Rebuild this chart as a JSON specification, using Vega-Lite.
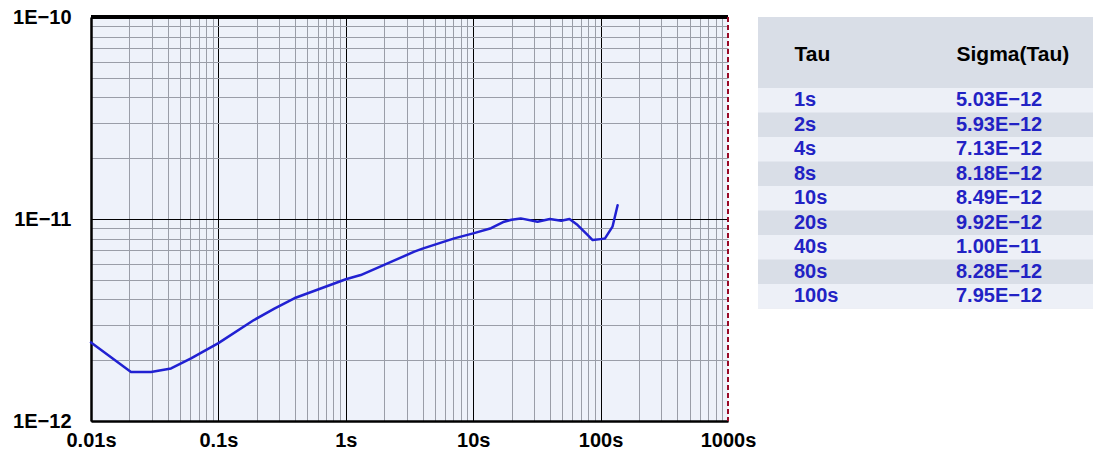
{
  "$schema": "https://vega.github.io/schema/vega-lite/v6.json",
  "padding": {"left": 12, "top": 7, "right": 5, "bottom": 0},
  "background": "white",
  "bounds": "flush",
  "spacing": 30,
  "datasets": {
    "curve": [
      {"tau": 0.01, "sigma": 2.45e-12},
      {"tau": 0.0206, "sigma": 1.75e-12},
      {"tau": 0.0296, "sigma": 1.75e-12},
      {"tau": 0.0425, "sigma": 1.82e-12},
      {"tau": 0.061, "sigma": 2.04e-12},
      {"tau": 0.1, "sigma": 2.43e-12},
      {"tau": 0.19, "sigma": 3.16e-12},
      {"tau": 0.275, "sigma": 3.6e-12},
      {"tau": 0.394, "sigma": 4.05e-12},
      {"tau": 1, "sigma": 5.03e-12},
      {"tau": 1.31, "sigma": 5.28e-12},
      {"tau": 2, "sigma": 5.93e-12},
      {"tau": 3.45, "sigma": 6.89e-12},
      {"tau": 4, "sigma": 7.13e-12},
      {"tau": 7.1, "sigma": 8.02e-12},
      {"tau": 8, "sigma": 8.18e-12},
      {"tau": 10, "sigma": 8.49e-12},
      {"tau": 13.8, "sigma": 9.0e-12},
      {"tau": 17.5, "sigma": 9.7e-12},
      {"tau": 20, "sigma": 9.92e-12},
      {"tau": 23.6, "sigma": 1.007e-11},
      {"tau": 32, "sigma": 9.7e-12},
      {"tau": 40, "sigma": 1.0e-11},
      {"tau": 49, "sigma": 9.8e-12},
      {"tau": 57, "sigma": 1.0e-11},
      {"tau": 66, "sigma": 9.33e-12},
      {"tau": 76.8, "sigma": 8.49e-12},
      {"tau": 80, "sigma": 8.28e-12},
      {"tau": 86.6, "sigma": 7.87e-12},
      {"tau": 100, "sigma": 7.95e-12},
      {"tau": 108, "sigma": 8.0e-12},
      {"tau": 124, "sigma": 9.16e-12},
      {"tau": 136, "sigma": 1.17e-11}
    ],
    "table": [
      {"Tau": "1s", "Sigma": "5.03E−12"},
      {"Tau": "2s", "Sigma": "5.93E−12"},
      {"Tau": "4s", "Sigma": "7.13E−12"},
      {"Tau": "8s", "Sigma": "8.18E−12"},
      {"Tau": "10s", "Sigma": "8.49E−12"},
      {"Tau": "20s", "Sigma": "9.92E−12"},
      {"Tau": "40s", "Sigma": "1.00E−11"},
      {"Tau": "80s", "Sigma": "8.28E−12"},
      {"Tau": "100s", "Sigma": "7.95E−12"}
    ]
  },
  "hconcat": [
    {
      "width": 637,
      "height": 404,
      "view": {"fill": "#eef2fa", "stroke": null},
      "data": {"name": "curve"},
      "layer": [
        {
          "mark": {"type": "line", "color": "#2121d2", "strokeWidth": 2.5, "strokeJoin": "round", "strokeCap": "round"},
          "encoding": {
            "x": {
              "field": "tau", "type": "quantitative",
              "scale": {"type": "log", "domain": [0.01, 1000], "nice": false},
              "axis": {
                "orient": "bottom", "title": null,
                "values": [0.01,0.02,0.03,0.04,0.05,0.06,0.07,0.08,0.09,0.1,0.2,0.3,0.4,0.5,0.6,0.7,0.8,0.9,1,2,3,4,5,6,7,8,9,10,20,30,40,50,60,70,80,90,100,200,300,400,500,600,700,800,900,1000],
                "labelExpr": "indexof([0.01,0.1,1,10,100,1000], datum.value) >= 0 ? datum.value + 's' : ''",
                "labelFont": "Liberation Sans", "labelFontSize": 20, "labelFontWeight": "bold", "labelColor": "black",
                "labelPadding": 9, "labelFlush": false, "labelBound": false, "labelOverlap": false,
                "ticks": false, "domain": true, "domainColor": "black", "domainWidth": 2.5,
                "grid": true, "gridWidth": 1,
                "gridColor": {"condition": {"test": "indexof([0.01,0.1,1,10,100,1000], datum.value) >= 0", "value": "#000000"}, "value": "#9a9ea8"},
                "gridOpacity": {"condition": {"test": "datum.value > 999", "value": 0}, "value": 1}
              }
            },
            "y": {
              "field": "sigma", "type": "quantitative",
              "scale": {"type": "log", "domain": [1e-12, 1e-10], "nice": false},
              "axis": {
                "orient": "left", "title": null,
                "values": [1e-12,2e-12,3e-12,4e-12,5e-12,6e-12,7e-12,8e-12,9e-12,1e-11,2e-11,3e-11,4e-11,5e-11,6e-11,7e-11,8e-11,9e-11,1e-10],
                "labelExpr": "indexof([1e-12,1e-11,1e-10], datum.value) >= 0 ? '1E\u2212' + round(-log(datum.value)/LN10) : ''",
                "labelFont": "Liberation Sans", "labelFontSize": 20, "labelFontWeight": "bold", "labelColor": "black",
                "labelPadding": 20, "labelBound": false, "labelOverlap": false, "labelFlush": false,
                "ticks": false, "domain": true, "domainColor": "black", "domainWidth": 2.5,
                "grid": true, "gridWidth": 1,
                "gridColor": {"condition": {"test": "indexof([1e-12,1e-11,1e-10], datum.value) >= 0", "value": "#000000"}, "value": "#9a9ea8"}
              }
            }
          }
        },
        {
          "mark": {"type": "rule", "color": "#000000", "strokeWidth": 2.5},
          "encoding": {"y": {"datum": 1e-10, "type": "quantitative"}}
        },
        {
          "mark": {"type": "rule", "color": "#9a0a28", "strokeWidth": 1.8, "strokeDash": [5, 3]},
          "encoding": {"x": {"datum": 1000, "type": "quantitative"}}
        }
      ]
    },
    {
      "width": 335,
      "height": 291.5,
      "view": {"fill": "#d9dee7", "stroke": null},
      "data": {"name": "table"},
      "encoding": {
        "y": {
          "field": "Tau", "type": "nominal", "sort": null,
          "scale": {"type": "band", "domain": ["1s", "2s", "4s", "8s", "10s", "20s", "40s", "80s", "100s"], "range": [71, 291.5], "paddingInner": 0, "paddingOuter": 0},
          "axis": null
        }
      },
      "layer": [
        {
          "transform": [{"filter": {"field": "Tau", "oneOf": ["1s", "4s", "10s", "40s", "100s"]}}],
          "mark": {"type": "rect", "color": "#edf0f7"}
        },
        {
          "mark": {"type": "text", "align": "left", "baseline": "middle", "font": "Liberation Sans", "fontSize": 20, "fontWeight": "bold", "color": "#2222c4"},
          "encoding": {
            "x": {
              "datum": "Tau", "type": "nominal",
              "scale": {"type": "point", "domain": ["Tau", "Sigma(Tau)"], "padding": 0.534, "align": 0.208},
              "axis": {
                "orient": "top", "offset": -37, "title": null,
                "labelFont": "Liberation Sans", "labelFontSize": 21, "labelFontWeight": "bold", "labelColor": "black",
                "labelAlign": "left", "labelBaseline": "middle", "labelPadding": 0, "labelAngle": 0,
                "ticks": false, "domain": false, "grid": false
              }
            },
            "text": {"field": "Tau"}
          }
        },
        {
          "mark": {"type": "text", "align": "left", "baseline": "middle", "font": "Liberation Sans", "fontSize": 20, "fontWeight": "bold", "color": "#2222c4"},
          "encoding": {
            "x": {"datum": "Sigma(Tau)", "type": "nominal"},
            "text": {"field": "Sigma"}
          }
        }
      ]
    }
  ]
}
